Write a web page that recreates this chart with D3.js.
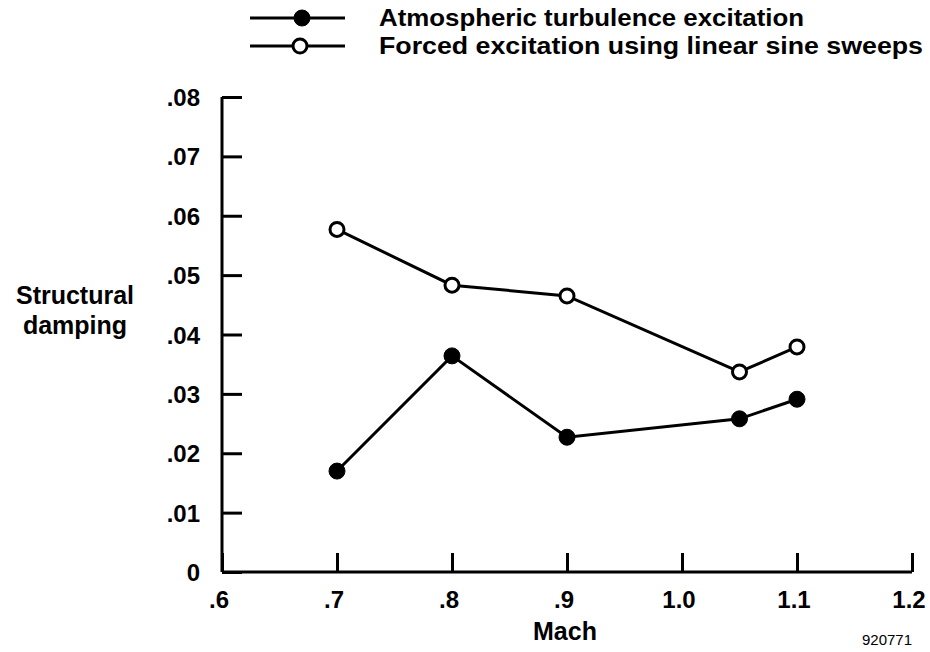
<!DOCTYPE html>
<html>
<head>
<meta charset="utf-8">
<script src="https://cdn.jsdelivr.net/npm/d3@7"></script>
<style>
  body { margin: 0; background: #fff; }
  text { font-family: "Liberation Sans", Arial, sans-serif; font-weight: bold; fill: #000; }
</style>
</head>
<body>
<div id="vis"></div>
<script>
// Structural damping vs Mach, two excitation methods
var machTurb = [0.7, 0.8, 0.9, 1.05, 1.1];
var dampTurb = [0.0170, 0.0364, 0.0227, 0.0258, 0.0291];

var machSweep = [0.7, 0.8, 0.9, 1.05, 1.1];
var dampSweep = [0.0577, 0.0483, 0.0465, 0.0337, 0.0379];

var xTicks = [0.6, 0.7, 0.8, 0.9, 1.0, 1.1, 1.2];
var xTickLabels = ['.6', '.7', '.8', '.9', '1.0', '1.1', '1.2'];
var yTicks = [0, 0.01, 0.02, 0.03, 0.04, 0.05, 0.06, 0.07, 0.08];
var yTickLabels = ['0', '.01', '.02', '.03', '.04', '.05', '.06', '.07', '.08'];

var legendLabels = ['Atmospheric turbulence excitation', 'Forced excitation using linear sine sweeps'];

var svg = d3.select('#vis')
    .append('svg')
    .attr('width', 930)
    .attr('height', 652);

// Plot area
var margin = {left: 222, top: 97, right: 18, bottom: 80};
var width = 930 - margin.left - margin.right;
var height = 652 - margin.top - margin.bottom;

var xScale = d3.scaleLinear().domain([0.6, 1.2]).range([0, width]);
var yScale = d3.scaleLinear().domain([0, 0.08]).range([height, 0]);

var g = svg.append('g')
    .attr('transform', 'translate(' + margin.left + ',' + margin.top + ')');

// Y axis: ticks pointing inward (right)
var yAxis = d3.axisRight(yScale)
    .tickValues(yTicks)
    .tickSize(20)
    .tickFormat('');
var yG = g.append('g').call(yAxis);
yG.select('.domain').attr('d', 'M0,' + height + 'V0');

// X axis: ticks pointing up
var xAxis = d3.axisTop(xScale)
    .tickValues(xTicks)
    .tickSize(19)
    .tickFormat('');
var xG = g.append('g')
    .attr('transform', 'translate(0,' + height + ')')
    .call(xAxis);
xG.select('.domain').attr('d', 'M0,0H' + width);

g.selectAll('.domain, .tick line')
    .attr('stroke', '#000')
    .attr('stroke-width', 3);

// Tick labels
g.selectAll('.ylab')
    .data(yTicks)
    .enter().append('text')
    .attr('class', 'ylab')
    .attr('x', -22)
    .attr('y', function(d) { return yScale(d) + 9; })
    .attr('text-anchor', 'end')
    .style('font-size', '24px')
    .text(function(d, i) { return yTickLabels[i]; });

g.selectAll('.xlab')
    .data(xTicks)
    .enter().append('text')
    .attr('class', 'xlab')
    .attr('x', function(d) { return xScale(d) - 3; })
    .attr('y', height + 36)
    .attr('text-anchor', 'middle')
    .style('font-size', '24px')
    .text(function(d, i) { return xTickLabels[i]; });

// Axis titles
svg.append('text')
    .attr('x', 565)
    .attr('y', 640)
    .attr('text-anchor', 'middle')
    .style('font-size', '25px')
    .text('Mach');

svg.append('text')
    .attr('x', 75)
    .attr('y', 304)
    .attr('text-anchor', 'middle')
    .style('font-size', '25px')
    .text('Structural');
svg.append('text')
    .attr('x', 75)
    .attr('y', 334)
    .attr('text-anchor', 'middle')
    .style('font-size', '25px')
    .text('damping');

svg.append('text')
    .attr('x', 887)
    .attr('y', 645)
    .attr('text-anchor', 'middle')
    .style('font-size', '15px')
    .style('font-weight', 'normal')
    .text('920771');

// Lines and markers
var series = [
    {mach: machTurb, damp: dampTurb, filled: true},
    {mach: machSweep, damp: dampSweep, filled: false}
];

var line = d3.line()
    .x(function(d) { return xScale(d[0]); })
    .y(function(d) { return yScale(d[1]); });

series.forEach(function(s) {
    var pts = s.mach.map(function(m, i) { return [m, s.damp[i]]; });
    g.append('path')
        .datum(pts)
        .attr('d', line)
        .attr('fill', 'none')
        .attr('stroke', '#000')
        .attr('stroke-width', 3);
    g.selectAll(null)
        .data(pts)
        .enter().append('circle')
        .attr('cx', function(d) { return xScale(d[0]); })
        .attr('cy', function(d) { return yScale(d[1]); })
        .attr('r', s.filled ? 8 : 7)
        .attr('fill', s.filled ? '#000' : '#fff')
        .attr('stroke', '#000')
        .attr('stroke-width', s.filled ? 1 : 3);
});

// Legend
var legend = svg.append('g');
legendLabels.forEach(function(lbl, i) {
    var y = 18 + i * 28;
    legend.append('line')
        .attr('x1', 250).attr('x2', 345)
        .attr('y1', y).attr('y2', y)
        .attr('stroke', '#000')
        .attr('stroke-width', 3);
    legend.append('circle')
        .attr('cx', i === 0 ? 302 : 300)
        .attr('cy', y)
        .attr('r', i === 0 ? 8 : 7)
        .attr('fill', i === 0 ? '#000' : '#fff')
        .attr('stroke', '#000')
        .attr('stroke-width', i === 0 ? 1 : 3);
    legend.append('text')
        .attr('x', 379)
        .attr('y', y + 8)
        .style('font-size', '23px')
        .attr('textLength', i === 0 ? 425 : 544)
        .attr('lengthAdjust', 'spacingAndGlyphs')
        .text(lbl);
});
</script>
</body>
</html>
